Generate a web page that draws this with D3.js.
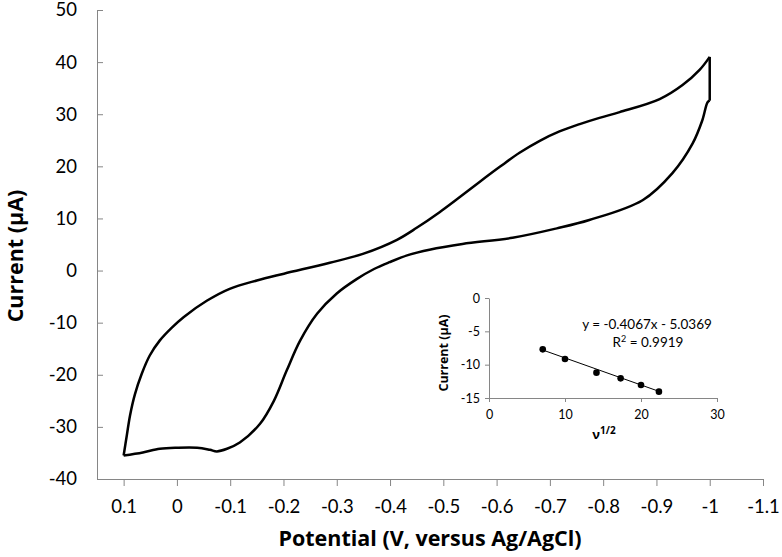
<!DOCTYPE html>
<meta charset="utf-8">
<style>
body { margin: 0; background: #fff; }
text { font-family: Lato, "Open Sans", sans-serif; fill: #000; }
.title { font-family: "Open Sans", sans-serif; font-weight: bold; }
.axis path, .axis line { stroke: #868686; stroke-width: 1; }
</style>
<svg width="782" height="557"></svg>
<script src="https://cdn.jsdelivr.net/npm/d3@7"></script>
<script>

var svg = d3.select("svg");

// forward sweep (lower branch), 0.1 V -> -1 V
var fwdV = [0.1, 0.064, 0.032, 0.0, -0.038, -0.062, -0.075, -0.094, -0.118, -0.156, -0.182, -0.206,
            -0.231, -0.263, -0.300, -0.338, -0.370, -0.399, -0.435, -0.474, -0.536, -0.630, -0.713,
            -0.774, -0.874, -0.930, -0.968, -0.986, -0.996, -1.0];
var fwdI = [-35.5, -34.9, -34.2, -34.0, -34.0, -34.4, -34.7, -34.2, -33.0, -29.4, -25.0, -19.2,
            -13.5, -8.3, -4.4, -1.6, 0.3, 1.6, 3.0, 4.0, 5.1, 6.3, 8.1,
            9.7, 13.5, 18.7, 24.4, 28.8, 32.3, 32.6];
// switching point at -1 V
var switchV = [-1.0, -1.0];
var switchI = [32.6, 41.0];
// reverse sweep (upper branch), -1 V -> 0.1 V
var revV = [-1.0, -0.981, -0.949, -0.906, -0.831, -0.793, -0.756, -0.718, -0.681, -0.643, -0.606,
            -0.568, -0.531, -0.493, -0.450, -0.413, -0.349, -0.287, -0.201, -0.150, -0.099, -0.056,
            -0.013, 0.009, 0.032, 0.051, 0.066, 0.079, 0.088, 0.094, 0.1];
var revI = [41.0, 38.5, 35.6, 32.9, 30.4, 29.3, 28.1, 26.7, 24.9, 22.6, 19.9,
            17.0, 14.1, 11.2, 8.2, 5.9, 3.2, 1.5, -0.6, -1.9, -3.5, -5.8,
            -8.9, -10.9, -13.4, -16.3, -19.8, -23.8, -27.8, -31.6, -35.5];

var xTicks = [0.1, 0, -0.1, -0.2, -0.3, -0.4, -0.5, -0.6, -0.7, -0.8, -0.9, -1, -1.1];
var yTicks = [-40, -30, -20, -10, 0, 10, 20, 30, 40, 50];

// inset: peak current vs square root of scan rate
var sqrtRate = [7.07, 10, 14.14, 17.32, 20, 22.36];
var peakI = [-7.7, -9.15, -11.2, -12.05, -13.05, -14.05];
var trendX = [7.07, 22.36];
var trendY = [-7.8, -14.0];
var insetXTicks = [0, 10, 20, 30];
var insetYTicks = [-15, -10, -5, 0];

var x = d3.scaleLinear().domain([0.15, -1.1]).range([97, 763]);
var y = d3.scaleLinear().domain([-40, 50]).range([479, 10]);

function fmt(v) { return String(+v.toFixed(1)); }

svg.append("g").attr("class", "axis main")
    .attr("transform", "translate(0," + y(-40) + ")")
    .call(d3.axisBottom(x).tickValues(xTicks).tickSizeInner(7).tickSizeOuter(0).tickPadding(14).tickFormat(fmt));
svg.append("g").attr("class", "axis main")
    .attr("transform", "translate(" + x(0.15) + ",0)")
    .call(d3.axisLeft(y).tickValues(yTicks).tickSizeInner(-6).tickSizeOuter(0).tickPadding(20).tickFormat(fmt));
svg.selectAll(".main text").attr("font-family", null).style("font-size", "18.5px").attr("fill", "#000");

var line = d3.line().x(function(d) { return x(d[0]); }).y(function(d) { return y(d[1]); })
    .curve(d3.curveCatmullRom.alpha(0.5));
var straight = d3.line().x(function(d) { return x(d[0]); }).y(function(d) { return y(d[1]); });

[[fwdV, fwdI, line], [switchV, switchI, straight], [revV, revI, line]].forEach(function(s) {
  svg.append("path")
      .datum(d3.zip(s[0], s[1]))
      .attr("d", s[2])
      .attr("fill", "none")
      .attr("stroke", "#000")
      .attr("stroke-width", 2.5)
      .attr("stroke-linejoin", "round");
});

svg.append("text").attr("class", "title")
    .attr("transform", "translate(23,256) rotate(-90)")
    .attr("text-anchor", "middle")
    .style("font-size", "21.5px")
    .text("Current (µA)");
svg.append("text").attr("class", "title")
    .attr("x", 430).attr("y", 546)
    .attr("text-anchor", "middle")
    .style("font-size", "21.5px")
    .text("Potential (V, versus Ag/AgCl)");

// inset
var ix = d3.scaleLinear().domain([0, 30]).range([489, 717]);
var iy = d3.scaleLinear().domain([-15, 0]).range([398, 298]);

svg.append("g").attr("class", "axis inset")
    .attr("transform", "translate(0," + iy(-15) + ")")
    .call(d3.axisBottom(ix).tickValues(insetXTicks).tickSizeInner(4).tickSizeOuter(0).tickPadding(8));
svg.append("g").attr("class", "axis inset")
    .attr("transform", "translate(" + ix(0) + ",0)")
    .call(d3.axisLeft(iy).tickValues(insetYTicks).tickSizeInner(4).tickSizeOuter(0).tickPadding(5).tickFormat(fmt));
svg.selectAll(".inset text").attr("font-family", null).style("font-size", "12.5px").attr("fill", "#000");

svg.append("path")
    .datum(d3.zip(trendX, trendY))
    .attr("d", d3.line().x(function(d) { return ix(d[0]); }).y(function(d) { return iy(d[1]); }))
    .attr("stroke", "#000").attr("stroke-width", 1);

svg.selectAll(".pt")
    .data(d3.zip(sqrtRate, peakI))
    .enter().append("circle")
    .attr("class", "pt")
    .attr("cx", function(d) { return ix(d[0]); })
    .attr("cy", function(d) { return iy(d[1]); })
    .attr("r", 3.3)
    .attr("fill", "#000");

svg.append("text")
    .attr("x", 647).attr("y", 329)
    .attr("text-anchor", "middle").style("font-size", "13.5px")
    .text("y = -0.4067x - 5.0369");
var r2 = svg.append("text")
    .attr("x", 648).attr("y", 347)
    .attr("text-anchor", "middle").style("font-size", "13.5px");
r2.append("tspan").text("R");
r2.append("tspan").attr("dy", -5).style("font-size", "9px").text("2");
r2.append("tspan").attr("dy", 5).text(" = 0.9919");

svg.append("text").attr("class", "title")
    .attr("transform", "translate(448,353) rotate(-90)")
    .attr("text-anchor", "middle")
    .style("font-size", "12.5px")
    .text("Current (µA)");
var nu = svg.append("text").attr("class", "title")
    .attr("x", 604).attr("y", 439)
    .attr("text-anchor", "middle")
    .style("font-size", "13px");
nu.append("tspan").text("ν");
nu.append("tspan").attr("dy", -5).style("font-size", "10px").text("1/2");

</script>
